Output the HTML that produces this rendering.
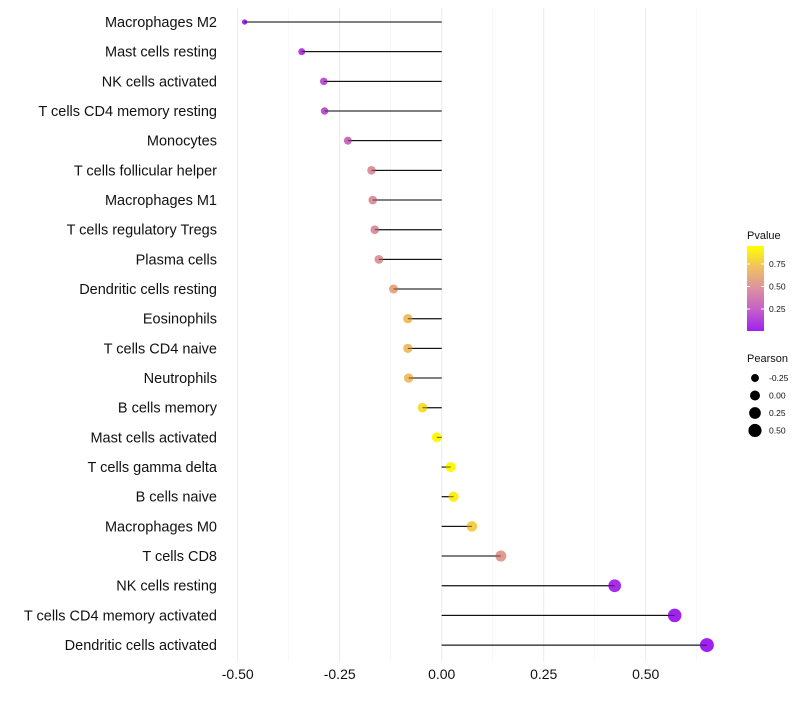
<!DOCTYPE html>
<html><head><meta charset="utf-8"><style>
body{margin:0;background:#fff;font-family:"Liberation Sans",sans-serif;}
</style></head><body>
<svg id="c" width="800" height="700" xmlns="http://www.w3.org/2000/svg" font-family="Liberation Sans, sans-serif">
<defs><linearGradient id="pg" x1="0" y1="1" x2="0" y2="0">
<stop offset="0" stop-color="#a020f0"/><stop offset="0.25" stop-color="#c460c8"/><stop offset="0.5" stop-color="#dc90a0"/><stop offset="0.75" stop-color="#f0c060"/><stop offset="1" stop-color="#ffff00"/></linearGradient></defs>
<g id="grid"></g><g id="marks"></g><g id="labels"></g><g id="legend"></g>
</svg>
<script>
const cells=["Macrophages M2","Mast cells resting","NK cells activated","T cells CD4 memory resting","Monocytes","T cells follicular helper","Macrophages M1","T cells regulatory  Tregs ","Plasma cells","Dendritic cells resting","Eosinophils","T cells CD4 naive","Neutrophils","B cells memory","Mast cells activated","T cells gamma delta","B cells naive","Macrophages M0","T cells CD8","NK cells resting","T cells CD4 memory activated","Dendritic cells activated"];
const pearson=[-0.483,-0.343,-0.289,-0.287,-0.230,-0.172,-0.169,-0.164,-0.154,-0.118,-0.083,-0.083,-0.081,-0.047,-0.012,0.022,0.029,0.074,0.145,0.424,0.571,0.650];
const pvalue=[0.01,0.12,0.2,0.2,0.32,0.5,0.5,0.5,0.53,0.62,0.74,0.74,0.74,0.86,0.97,0.97,0.93,0.8,0.56,0.05,0.01,0.002];
const xTicks=[-0.5,-0.25,0,0.25,0.5];
const xTickLabels=["-0.50","-0.25","0.00","0.25","0.50"];
const pTicks=[0.25,0.5,0.75];
const sizeTicks=[-0.25,0,0.25,0.5];
const NS="http://www.w3.org/2000/svg";
const X=v=>441.7+v*408;
const Y=i=>22+i*29.67;
const R=v=>Math.sqrt(Math.max(2.25,24.9+37*v));
function col(p){const s=[[160,32,240],[196,96,200],[220,144,160],[240,192,96],[255,255,0]];const f=Math.min(3.999,p*4);const k=Math.floor(f),t=f-k;const a=s[k],b=s[k+1];return `rgb(${a.map((x,j)=>Math.round(x+(b[j]-x)*t)).join(',')})`;}
function mk(tag,at,par){const e=document.createElementNS(NS,tag);for(const k in at)e.setAttribute(k,at[k]);document.getElementById(par).appendChild(e);return e;}
for(let v=-0.5;v<=0.625;v+=0.125){const major=Math.abs(v*4-Math.round(v*4))<1e-6;const g=mk('line',{x1:X(v),x2:X(v),y1:8,y2:662,stroke:major?'#ebebeb':'#f4f4f4','stroke-width':major?1:0.6},'grid');

}
xTicks.forEach((v,i)=>{const t=mk('text',{x:X(v),y:679,'text-anchor':'middle','font-size':14,fill:'#111'},'labels');t.textContent=xTickLabels[i];

});
cells.forEach((c,i)=>{const y=Y(i);
const l=mk('line',{x1:X(0),x2:X(pearson[i]),y1:y,y2:y,stroke:'#000','stroke-width':1},'marks');


const d=mk('circle',{cx:X(pearson[i]),cy:y,r:R(pearson[i]),fill:col(pvalue[i])},'marks');


const l2=mk('line',{x1:X(0),x2:X(pearson[i]),y1:y,y2:y,stroke:'#000','stroke-width':1,'stroke-opacity':0.6},'marks');


const t=mk('text',{x:217,y:y+5,'text-anchor':'end','font-size':14.5,fill:'#111','xml:space':'preserve'},'labels');t.textContent=c;

});
const lt=mk('text',{x:747,y:239,'font-size':11,fill:'#111'},'legend');lt.textContent='Pvalue';


const bar=mk('rect',{x:747,y:246,width:17,height:85,fill:'url(#pg)'},'legend');


const PY=p=>331.5-p*90;
pTicks.forEach(p=>{mk('line',{x1:747,x2:750,y1:PY(p),y2:PY(p),stroke:'#fff'},'legend');mk('line',{x1:761,x2:764,y1:PY(p),y2:PY(p),stroke:'#fff'},'legend');
const t=mk('text',{x:769,y:PY(p)+3,'font-size':8.5,fill:'#111'},'legend');t.textContent=p.toFixed(2);

});
const st=mk('text',{x:747,y:362,'font-size':11,fill:'#111'},'legend');st.textContent='Pearson';


sizeTicks.forEach((v,i)=>{const y=378+i*17.5;
const c=mk('circle',{cx:755,cy:y,r:R(v),fill:'#000'},'legend');


const t=mk('text',{x:769,y:y+3,'font-size':8.5,fill:'#111'},'legend');t.textContent=v.toFixed(2);

});
</script>
</body></html>
